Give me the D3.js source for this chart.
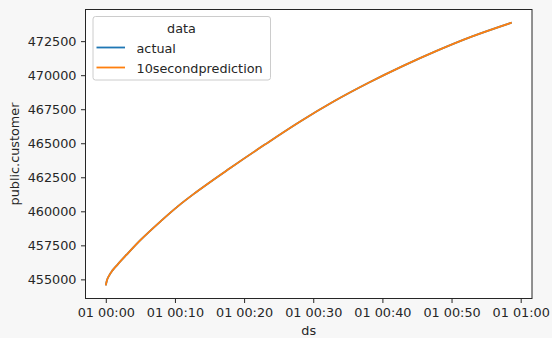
<!DOCTYPE html>
<html>
<head>
<meta charset="utf-8">
<script src="https://cdn.jsdelivr.net/npm/d3@7"></script>
<style>
  body { margin: 0; background: #f7f7f7; }
  text { font-family: "DejaVu Sans", sans-serif; fill: #262626; }
</style>
</head>
<body>
<div id="chart"></div>
<script>
// minutes after 01 00:00
var minutes = [0, 0.15, 0.5, 1.0, 1.7, 3.0, 5.0, 8.0, 10.5, 13, 18, 23, 28, 33, 38, 43, 48, 53, 58.7];
var actual = [454560, 454900, 455300, 455680, 456090, 456810, 457880, 459300, 460400, 461380,
    463180, 464900, 466560, 468080, 469440, 470680, 471820, 472850, 473860];
var prediction = [454560, 454900, 455300, 455680, 456090, 456810, 457880, 459300, 460400, 461380,
    463180, 464900, 466560, 468080, 469440, 470680, 471820, 472850, 473860];
var yTicks = [455000, 457500, 460000, 462500, 465000, 467500, 470000, 472500];
var xTickMinutes = [0, 10, 20, 30, 40, 50, 60];
var seriesNames = ["actual", "10secondprediction"];
var colors = ["#1f77b4", "#ff7f0e"];

var W = 552, H = 338;
var box = { left: 85.5, right: 532, top: 9.5, bottom: 298.5 };
var fs = "12.8px";

var t0 = Date.UTC(2020, 0, 1, 0, 0, 0);
function toDate(m) { return new Date(t0 + m * 60000); }

var svg = d3.select("#chart").append("svg")
    .attr("width", W)
    .attr("height", H);

var xMin = d3.min(minutes), xMax = d3.max(minutes);
var xPad = (xMax - xMin) * 0.05;
var x = d3.scaleUtc()
    .domain([toDate(xMin - xPad), toDate(xMax + xPad)])
    .range([box.left, box.right]);

var yMin = d3.min(actual), yMax = d3.max(actual);
var yPad = (yMax - yMin) * 0.05;
var y = d3.scaleLinear()
    .domain([yMin - yPad, yMax + yPad])
    .range([box.bottom, box.top]);

svg.append("rect")
    .attr("x", box.left).attr("y", box.top)
    .attr("width", box.right - box.left).attr("height", box.bottom - box.top)
    .style("fill", "white");

// lines
var line = d3.line()
    .x(function (d) { return x(toDate(d[0])); })
    .y(function (d) { return y(d[1]); })
    .curve(d3.curveMonotoneX);

[actual, prediction].forEach(function (vals, i) {
    svg.append("path")
        .datum(minutes.map(function (m, j) { return [m, vals[j]]; }))
        .attr("d", line)
        .style("fill", "none")
        .style("stroke", colors[i])
        .style("stroke-width", 1.8);
});

// X axis
var fmt = d3.utcFormat("%d %H:%M");
svg.append("g")
    .attr("transform", "translate(0," + box.bottom + ")")
    .call(d3.axisBottom(x)
        .tickValues(xTickMinutes.map(toDate))
        .tickFormat(fmt)
        .tickSizeInner(4.5).tickSizeOuter(0).tickPadding(4.5))
    .call(function (g) {
        g.select(".domain").remove();
        g.selectAll("line").style("stroke", "#262626");
        g.selectAll("text").style("font-size", fs).style("fill", "#262626");
    });

// Y axis
svg.append("g")
    .attr("transform", "translate(" + box.left + ",0)")
    .call(d3.axisLeft(y)
        .tickValues(yTicks)
        .tickFormat(d3.format("d"))
        .tickSizeInner(4.5).tickSizeOuter(0).tickPadding(4.5))
    .call(function (g) {
        g.select(".domain").remove();
        g.selectAll("line").style("stroke", "#262626");
        g.selectAll("text").style("font-size", fs).style("fill", "#262626");
    });

// frame
svg.append("rect")
    .attr("x", box.left).attr("y", box.top)
    .attr("width", box.right - box.left).attr("height", box.bottom - box.top)
    .style("fill", "none")
    .style("stroke", "#262626")
    .style("stroke-width", 1);

// axis labels
svg.append("text")
    .attr("x", (box.left + box.right) / 2)
    .attr("y", 335)
    .style("text-anchor", "middle")
    .style("font-size", fs)
    .text("ds");

svg.append("text")
    .attr("transform", "rotate(-90)")
    .attr("x", -(box.top + box.bottom) / 2)
    .attr("y", 18.5)
    .style("text-anchor", "middle")
    .style("font-size", fs)
    .text("public.customer");

// legend
var lg = svg.append("g").attr("class", "legend");
lg.append("rect")
    .attr("x", 93).attr("y", 16.5)
    .attr("width", 177.5).attr("height", 63.5)
    .attr("rx", 2.5)
    .style("fill", "white")
    .style("fill-opacity", 0.8)
    .style("stroke", "#cccccc")
    .style("stroke-width", 1);

lg.append("text")
    .attr("x", 181.5)
    .attr("y", 33.3)
    .style("text-anchor", "middle")
    .style("font-size", fs)
    .text("data");

seriesNames.forEach(function (name, i) {
    var yy = 47.5 + i * 20;
    lg.append("line")
        .attr("x1", 96.5).attr("x2", 125)
        .attr("y1", yy).attr("y2", yy)
        .style("stroke", colors[i])
        .style("stroke-width", 1.8);
    lg.append("text")
        .attr("x", 136.5)
        .attr("y", yy + 5.3)
        .style("font-size", fs)
        .text(name);
});
</script>
</body>
</html>
